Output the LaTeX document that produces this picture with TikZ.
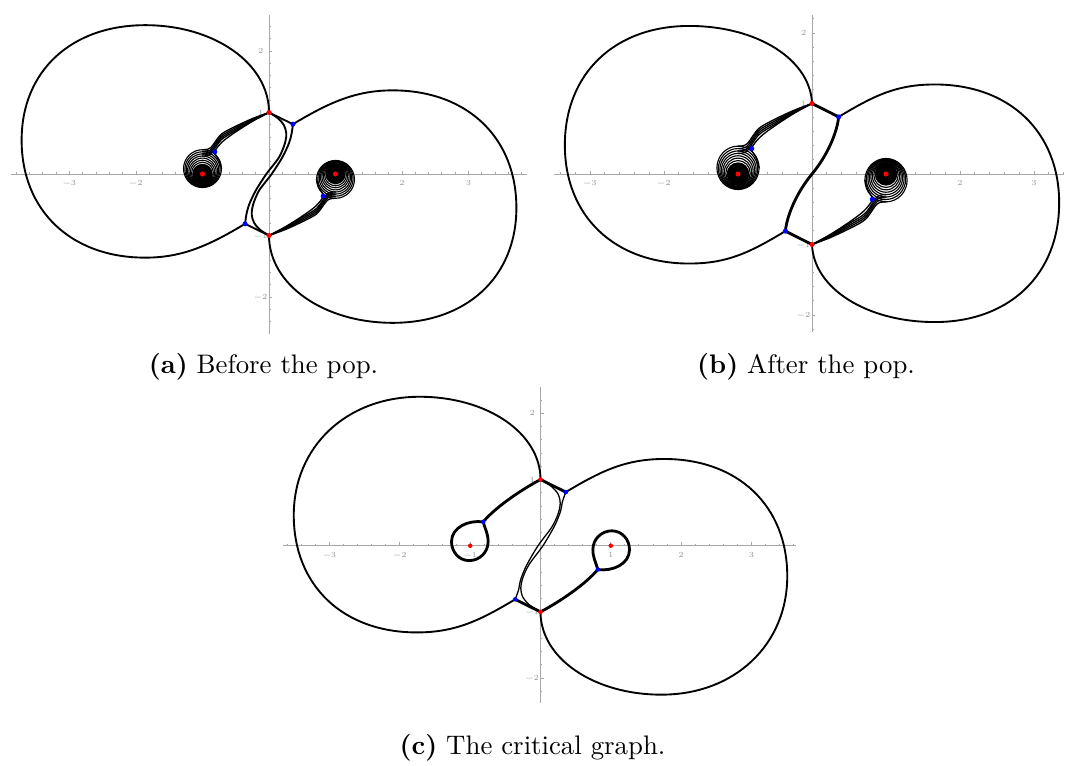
\documentclass[tikz,border=0pt]{standalone}
\usepackage{tikz}
\definecolor{axisgrey}{RGB}{168,168,168}
\definecolor{ticktext}{RGB}{150,150,150}
\definecolor{zerored}{RGB}{255,0,0}
\definecolor{saddleblue}{RGB}{0,0,255}
\tikzset{
  axisline/.style={draw=axisgrey,line width=0.35pt},
  ticklabel/.style={font=\fontsize{2.9}{3}\selectfont,text=ticktext,inner sep=0pt},
  traj/.style={draw=black,line width=0.7pt,line join=round,line cap=round},
  bundle/.style={draw=black,line width=0.5pt,line cap=round},
  thintraj/.style={draw=black,line width=0.48pt},
  thicktraj/.style={draw=black,line width=1.05pt,line join=round,line cap=round},
  ring/.style={draw=black,line width=0.42pt},
  reddot/.style={fill=zerored},
  bluedot/.style={fill=saddleblue},
  caption/.style={anchor=base,inner sep=0pt}
}
% axes of one panel: #1 name, #2/#3 x range, #4/#5 y range, #6/#7 minor ticks on x/y
\newcommand{\panelaxes}[7]{%
  \draw[axisline] (#2,0) -- (#3,0);
  \draw[axisline] (0,#4) -- (0,#5);
  \foreach \k in {-#6,...,#6} \draw[axisline] (\k/5,0) -- ++(0,0.7pt);
  \foreach \k in {-#7,...,#7} \draw[axisline] (0,\k/5) -- ++(0.7pt,0);
  \foreach \i in {-3,...,3} \draw[axisline] (\i,0) -- ++(0,1.3pt);
  \foreach \j in {-2,...,2} \draw[axisline] (0,\j) -- ++(1.3pt,0);
  \foreach \i/\s in {-3/−3,-2/−2,-1/−1,1/1,2/2,3/3}
    \node[ticklabel,yshift=-3.5pt] (#1x\i) at (\i,0) {\s};
  \foreach \j/\s in {-2/−2,-1/−1,1/1,2/2}
    \node[ticklabel,xshift=-3.1pt] (#1y\j) at (0,\j) {\s};
}
% spiral round the pole (-1,0), fed by a bundle from the zero (0,1)
\newcommand{\polespiral}{%
  \fill (-1,0) circle[x radius=0.145,y radius=0.157];
  \foreach \k in {0,...,7}{
    \pgfmathsetmacro\rx{0.145+0.02*\k}
    \pgfmathsetmacro\ry{1.08*\rx}
    \pgfmathsetmacro\cy{0.0125*\k}
    \draw[ring] (-1,\cy) circle[x radius=\rx,y radius=\ry];
  }
  \foreach \m in {0,...,3}{
    \pgfmathsetmacro\tp{0.293+0.034*\m}
    \pgfmathsetmacro\ya{0.868+0.011*\m}
    \pgfmathsetmacro\yb{0.705+0.024*\m}
    \pgfmathsetmacro\yc{0.555+0.03*\m}
    \pgfmathsetmacro\yd{\tp+0.03}
    \draw[bundle] plot[smooth] coordinates {(0,1) (-0.25,\ya) (-0.5,\yb) (-0.72,\yc) (-0.88,\yd) (-1,\tp)};
  }
  \draw[bundle] plot[smooth] coordinates {(0,1) (-0.25,0.855) (-0.5,0.685) (-0.70,0.525) (-0.815,0.36) (-0.75,0.22) (-0.715,0.0875)};
}
% zeros (red) and the simple zeros (blue)
\newcommand{\critdots}[1]{%
  \foreach \x/\y in {0/1,0/-1,-1/0,1/0} \fill[reddot] (\x,\y) circle[radius=#1];
  \foreach \x/\y in {0.36/0.81,-0.36/-0.81,-0.815/0.36,0.815/-0.36} \fill[bluedot] (\x,\y) circle[radius=#1];
}
\begin{document}
\begin{tikzpicture}[x=0.373pt,y=0.373pt]
  \path[fill=white] (0,0) rectangle (1065,-765);
  \useasboundingbox (0,0) rectangle (1065,-765);

  % (a) before the pop
  \begin{scope}[shift={(269,-174)},x={(66.5,0)},y={(0,61.5)}]
    \panelaxes{a}{-3.88}{3.88}{-2.6}{2.58}{19}{12}
    \foreach \rot in {0,180}{
      \begin{scope}[rotate=\rot]
        \draw[traj] (0,1) .. controls (0,1.795) and (-0.818,2.42) .. (-1.86,2.42)
          .. controls (-2.976,2.42) and (-3.72,1.672) .. (-3.72,0.55)
          .. controls (-3.72,-0.596) and (-2.976,-1.36) .. (-1.86,-1.36)
          .. controls (-1.3,-1.36) and (-0.9,-1.16) .. (-0.36,-0.81);
        \polespiral
        \draw[traj] (0,1) -- (0.36,0.81);
        \draw[traj] plot[smooth] coordinates {(0,1) (0.13,0.91) (0.22,0.80) (0.26,0.66) (0.24,0.50) (0.15,0.27) (-0.04,0) (-0.2,-0.27) (-0.30,-0.5) (-0.34,-0.66) (-0.36,-0.81)};
      \end{scope}
    }
    \critdots{0.95pt}
  \end{scope}

  % (b) after the pop
  \begin{scope}[shift={(812,-174)},x={(74,0)},y={(0,70.5)}]
    \panelaxes{b}{-3.49}{3.40}{-2.24}{2.25}{17}{11}
    \foreach \rot in {0,180}{
      \begin{scope}[rotate=\rot]
        \draw[traj] (0,1) .. controls (-0.02,1.616) and (-0.730,2.10) .. (-1.66,2.10)
          .. controls (-2.668,2.10) and (-3.34,1.424) .. (-3.34,0.41)
          .. controls (-3.34,-0.598) and (-2.668,-1.27) .. (-1.66,-1.27)
          .. controls (-1.15,-1.27) and (-0.85,-1.12) .. (-0.36,-0.81);
        \polespiral
        \draw[thicktraj] (0,1) -- (0.36,0.81) .. controls (0.34,0.60) and (0.22,0.28) .. (0,0);
      \end{scope}
    }
    \critdots{0.95pt}
  \end{scope}

  % (c) the critical graph
  \begin{scope}[shift={(540.5,-545.7)},x={(70.3,0)},y={(0,66.2)}]
    \panelaxes{c}{-3.66}{3.64}{-2.38}{2.40}{18}{11}
    \foreach \rot in {0,180}{
      \begin{scope}[rotate=\rot]
        \draw[traj] (0,1) .. controls (0,1.70) and (-0.757,2.25) .. (-1.72,2.25)
          .. controls (-2.758,2.25) and (-3.51,1.498) .. (-3.51,0.46)
          .. controls (-3.51,-0.602) and (-2.81,-1.31) .. (-1.76,-1.31)
          .. controls (-1.2,-1.31) and (-0.85,-1.12) .. (-0.36,-0.81);
        \draw[thicktraj] (0.36,0.81) -- (0,1) .. controls (-0.3,0.83) and (-0.65,0.57) .. (-0.815,0.36)
          to[out=172,in=90] (-1.266,0.06) to[out=-90,in=180] (-1.016,-0.225)
          to[out=0,in=-90] (-0.745,0.06) to[out=90,in=-75] (-0.815,0.36);
        \draw[thintraj] plot[smooth] coordinates {(0,1) (0.15,0.9) (0.25,0.78) (0.28,0.64) (0.25,0.48) (0.16,0.28) (-0.035,0) (-0.2,-0.3) (-0.285,-0.52) (-0.31,-0.66) (-0.36,-0.81)};
      \end{scope}
    }
    \critdots{0.85pt}
  \end{scope}

  \node[caption] (capa) at (263.5,-373.3) {\textbf{(a)} Before the pop.};
  \node[caption] (capb) at (806,-373.3) {\textbf{(b)} After the pop.};
  \node[caption] (capc) at (532.5,-754) {\textbf{(c)} The critical graph.};
\end{tikzpicture}
\end{document}
